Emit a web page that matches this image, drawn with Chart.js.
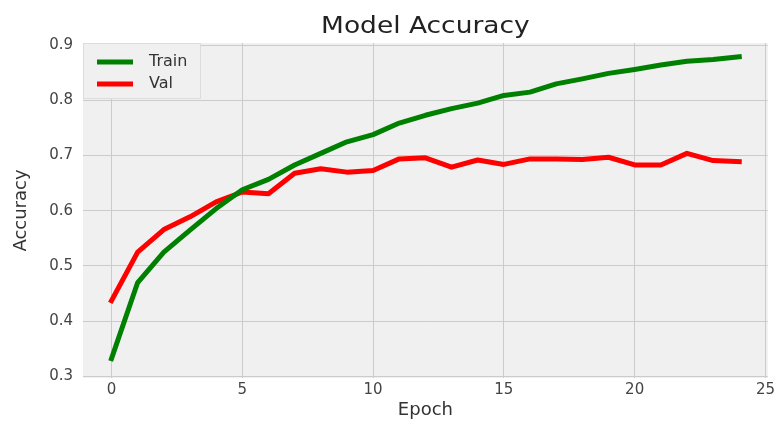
<!DOCTYPE html>
<html>
<head>
<meta charset="utf-8">
<script src="https://cdn.jsdelivr.net/npm/chart.js@4.4.0/dist/chart.umd.min.js"></script>
<style>
  html, body { margin: 0; padding: 0; background: #fff; }
  #wrap { width: 778px; height: 424px; }
</style>
</head>
<body>
<div id="wrap"><canvas id="accChart" width="778" height="424"></canvas></div>
<script>
// data
const epochs = [0,1,2,3,4,5,6,7,8,9,10,11,12,13,14,15,16,17,18,19,20,21,22,23,24];
const trainAcc = [0.332,0.470,0.525,0.565,0.604,0.638,0.657,0.683,0.704,0.725,0.738,0.759,0.773,0.785,0.795,0.809,0.815,0.830,0.839,0.849,0.856,0.864,0.871,0.874,0.879];
const valAcc = [0.437,0.525,0.566,0.589,0.616,0.634,0.631,0.668,0.676,0.670,0.673,0.694,0.696,0.679,0.692,0.684,0.694,0.694,0.693,0.697,0.683,0.683,0.704,0.691,0.689];
const xTicks = [0,5,10,15,20,25];
const yTicks = [0.3,0.4,0.5,0.6,0.7,0.8,0.9];
const chartTitle = 'Model Accuracy';

const FONT = "'DejaVu Sans', sans-serif";
const toPts = arr => arr.map((v, i) => ({ x: epochs[i], y: v }));

// grey plot background
const plotBg = {
  id: 'plotBg',
  beforeDraw(chart) {
    const { ctx, chartArea: a } = chart;
    ctx.save();
    ctx.fillStyle = '#f0f0f0';
    ctx.fillRect(a.left, a.top, a.right - a.left, a.bottom - a.top);
    ctx.restore();
  }
};

// title centred over the axes (like matplotlib), slightly wide
const axesTitle = {
  id: 'axesTitle',
  afterDraw(chart) {
    const { ctx, chartArea: a } = chart;
    ctx.save();
    ctx.translate((a.left + a.right) / 2, 33);
    ctx.scale(1.15, 1);
    ctx.fillStyle = '#222';
    ctx.font = '23px ' + FONT;
    ctx.textAlign = 'center';
    ctx.textBaseline = 'alphabetic';
    ctx.fillText(chartTitle, 0, 0);
    ctx.restore();
  }
};

// legend drawn inside the axes, upper left
const innerLegend = {
  id: 'innerLegend',
  afterDatasetsDraw(chart) {
    const { ctx, chartArea: a } = chart;
    const x0 = a.left, y0 = a.top;
    ctx.save();
    ctx.fillStyle = '#f0f0f0';
    ctx.fillRect(x0, y0, 117, 55);
    ctx.strokeStyle = '#dcdcdc';
    ctx.lineWidth = 1;
    ctx.strokeRect(x0 + 0.5, y0 + 0.5, 117, 55);
    chart.data.datasets.forEach((ds, i) => {
      const y = y0 + 19 + i * 22;
      ctx.strokeStyle = ds.borderColor;
      ctx.lineWidth = 5;
      ctx.beginPath();
      ctx.moveTo(x0 + 14, y);
      ctx.lineTo(x0 + 50, y);
      ctx.stroke();
      ctx.fillStyle = '#333';
      ctx.font = '16px ' + FONT;
      ctx.textBaseline = 'middle';
      ctx.fillText(ds.label, x0 + 66, y);
    });
    ctx.restore();
  }
};

new Chart(document.getElementById('accChart'), {
  type: 'line',
  data: {
    datasets: [
      { label: 'Train', data: toPts(trainAcc), borderColor: '#008000', borderWidth: 5,
        pointRadius: 0, tension: 0, borderCapStyle: 'square', borderJoinStyle: 'round' },
      { label: 'Val', data: toPts(valAcc), borderColor: '#ff0000', borderWidth: 5,
        pointRadius: 0, tension: 0, borderCapStyle: 'square', borderJoinStyle: 'round' }
    ]
  },
  options: {
    responsive: false,
    animation: false,
    layout: { padding: { left: 0, right: 9, top: 43, bottom: 0 } },
    plugins: {
      legend: { display: false },
      tooltip: { enabled: false },
      title: { display: false }
    },
    scales: {
      x: {
        type: 'linear',
        min: -1.09, max: 25.09,
        afterBuildTicks: s => { s.ticks = xTicks.map(v => ({ value: v })); },
        afterFit: s => { s.height = 46; },
        grid: { color: '#cbcbcb', lineWidth: 1, drawTicks: false },
        border: { display: false },
        ticks: { color: '#444', font: { family: FONT, size: 15 }, padding: 3, maxRotation: 0 },
        title: { display: true, text: 'Epoch', color: '#333', font: { family: FONT, size: 18 }, padding: { top: 0, bottom: 3 } }
      },
      y: {
        type: 'linear',
        min: 0.297, max: 0.904,
        afterBuildTicks: s => { s.ticks = yTicks.map(v => ({ value: v })); },
        afterFit: s => { s.width = 83; },
        grid: { color: '#cbcbcb', lineWidth: 1, drawTicks: false },
        border: { display: false },
        ticks: { color: '#444', font: { family: FONT, size: 15 }, padding: 10,
          callback: v => v.toFixed(1) },
        title: { display: true, text: 'Accuracy', color: '#333', font: { family: FONT, size: 18 }, padding: { top: 11, bottom: 0 } }
      }
    }
  },
  plugins: [plotBg, innerLegend, axesTitle]
});
</script>
</body>
</html>
